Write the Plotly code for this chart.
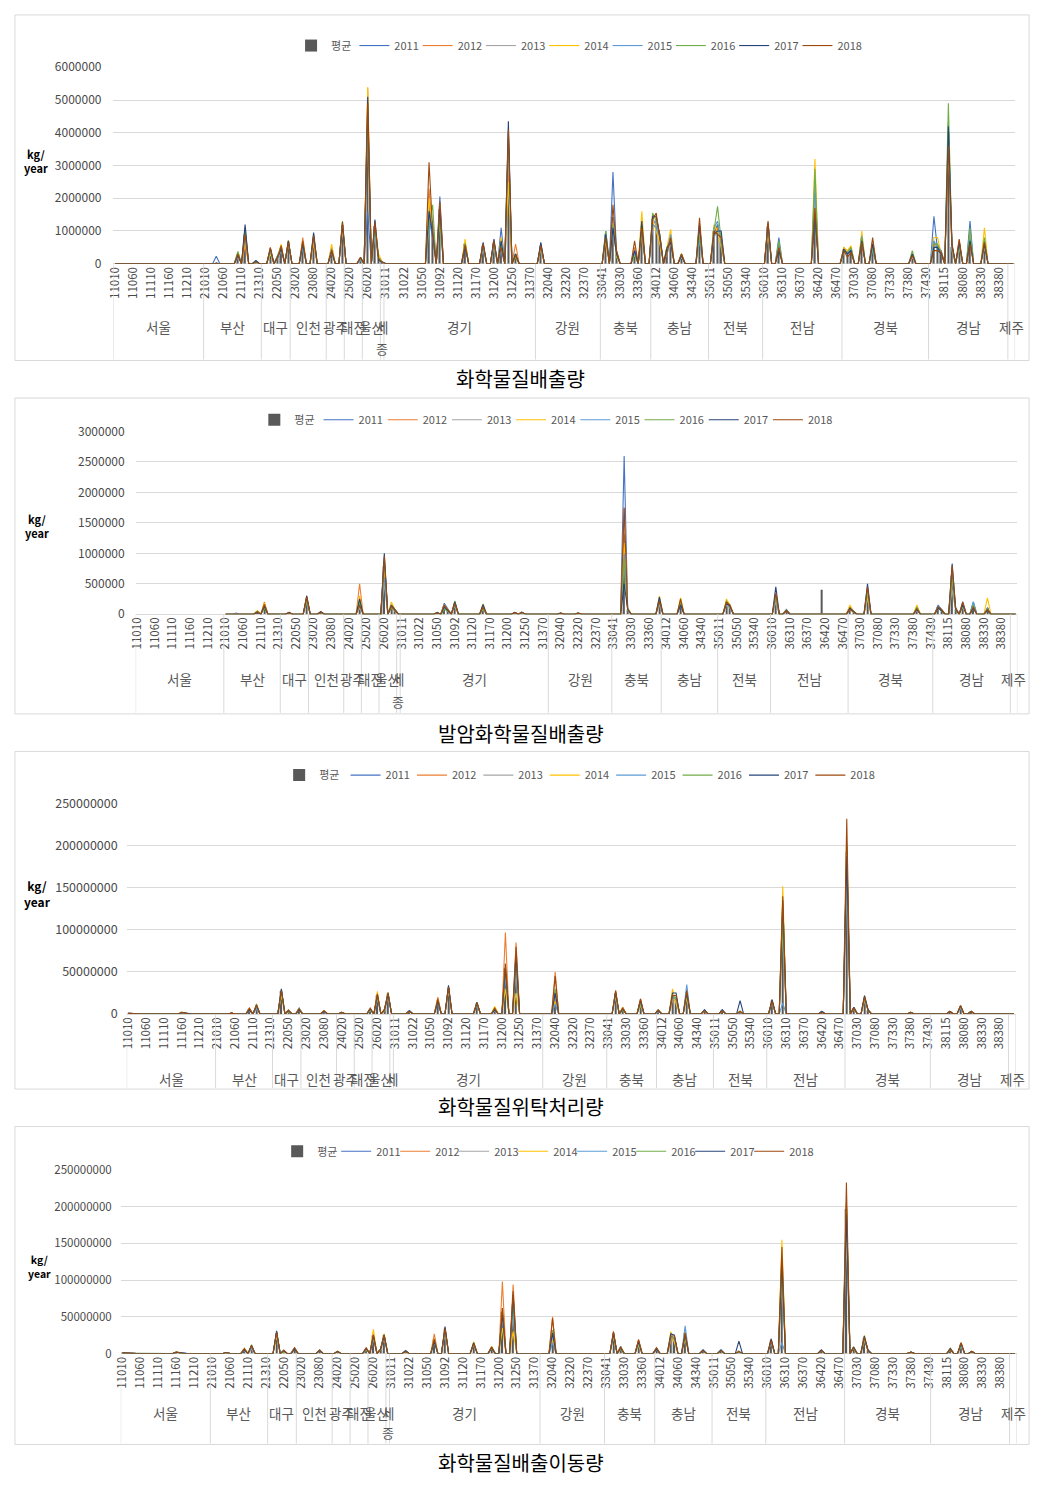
import plotly.graph_objects as go

# page geometry: the html body keeps its default 8px margin, so the figure fills the rest
PAGE_W, PAGE_H = 1054, 1503
OX, OY = 8, 8
FW, FH = PAGE_W - 2 * OX, PAGE_H - 2 * OY

# ---------------- categories (municipality codes) and regions ----------------
region_names = ["서울", "부산", "대구", "인천", "광주", "대전", "울산", "세종", "경기",
                "강원", "충북", "충남", "전북", "전남", "경북", "경남", "제주"]
seoul_codes = ["11010", "11020", "11030", "11040", "11050", "11060", "11070", "11080", "11090", "11100",
               "11110", "11120", "11130", "11140", "11150", "11160", "11170", "11180", "11190", "11200",
               "11210", "11220", "11230", "11240", "11250"]
busan_codes = ["21010", "21020", "21030", "21040", "21050", "21060", "21070", "21080", "21090", "21100",
               "21110", "21120", "21130", "21140", "21150", "21310"]
daegu_codes = ["22010", "22020", "22030", "22040", "22050", "22060", "22070", "22310"]
incheon_codes = ["23010", "23020", "23030", "23040", "23050", "23060", "23080", "23090", "23310", "23320"]
gwangju_codes = ["24010", "24020", "24030", "24040", "24050"]
daejeon_codes = ["25010", "25020", "25030", "25040", "25050"]
ulsan_codes = ["26010", "26020", "26030", "26040", "26310"]
sejong_codes = ["29010"]
gyeonggi_codes = ["31011", "31012", "31013", "31014", "31021", "31022", "31023", "31030", "31041", "31042",
                  "31050", "31060", "31070", "31080", "31091", "31092", "31101", "31103", "31104", "31110",
                  "31120", "31130", "31140", "31150", "31160", "31170", "31180", "31191", "31192", "31193",
                  "31200", "31210", "31220", "31230", "31240", "31250", "31260", "31270", "31280", "31350",
                  "31370", "31380"]
gangwon_codes = ["32010", "32020", "32030", "32040", "32050", "32060", "32070", "32310", "32320", "32330",
                 "32340", "32350", "32360", "32370", "32380", "32390", "32400", "32410"]
chungbuk_codes = ["33041", "33042", "33043", "33044", "33020", "33030", "33320", "33330", "33340", "33350",
                  "33360", "33370", "33380", "33390"]
chungnam_codes = ["34011", "34012", "34020", "34030", "34040", "34050", "34060", "34070", "34080", "34310",
                  "34330", "34340", "34350", "34360", "34370", "34380"]
jeonbuk_codes = ["35011", "35012", "35020", "35030", "35040", "35050", "35060", "35310", "35320", "35330",
                 "35340", "35350", "35360", "35370", "35380"]
jeonnam_codes = ["36010", "36020", "36030", "36040", "36060", "36310", "36320", "36330", "36350", "36360",
                 "36370", "36380", "36390", "36400", "36410", "36420", "36430", "36440", "36450", "36460",
                 "36470", "36480"]
gyeongbuk_codes = ["37011", "37012", "37020", "37030", "37040", "37050", "37060", "37070", "37080", "37090",
                   "37100", "37310", "37320", "37330", "37340", "37350", "37360", "37370", "37380", "37390",
                   "37400", "37410", "37420", "37430"]
gyeongnam_codes = ["38111", "38112", "38113", "38114", "38115", "38030", "38050", "38060", "38070", "38080",
                   "38090", "38100", "38310", "38320", "38330", "38340", "38350", "38360", "38370", "38380",
                   "38390", "38400"]
jeju_codes = ["39010", "39020"]

region_code_lists = [seoul_codes, busan_codes, daegu_codes, incheon_codes, gwangju_codes, daejeon_codes,
                     ulsan_codes, sejong_codes, gyeonggi_codes, gangwon_codes, chungbuk_codes, chungnam_codes,
                     jeonbuk_codes, jeonnam_codes, gyeongbuk_codes, gyeongnam_codes, jeju_codes]

years = ["2011", "2012", "2013", "2014", "2015", "2016", "2017", "2018"]

# ---------------- panel 1: 화학물질배출량 (values in 1,000 kg/year) ----------------
release_codes = ["21040", "21100", "21120", "21150", "22030", "22050", "22060", "22310", "23040", "23080",
                 "24020", "24050", "25050", "26020", "26040", "26310", "29010", "31070", "31080", "31092",
                 "31140", "31191", "31200", "31220", "31240", "31260", "32020", "33042", "33044", "33020",
                 "33350", "33370", "34011", "34012", "34020", "34040", "34050", "34080", "34360", "35012",
                 "35020", "35030", "36020", "36060", "36410", "37011", "37012", "37020", "37050", "37080",
                 "37390", "38112", "38113", "38114", "38030", "38050", "38070", "38100", "38340"]
release_2011 = [230, 300, 1000, 100, 350, 250, 500, 650, 500, 700,
                400, 1100, 150, 1600, 1100, 200, 50, 1500, 800, 2050,
                550, 500, 650, 1100, 2200, 300, 500, 800, 2800, 300,
                300, 1200, 1200, 1300, 800, 400, 700, 300, 1000, 900,
                1200, 600, 1000, 800, 1500, 500, 300, 400, 800, 500,
                300, 1450, 400, 300, 3500, 500, 500, 1300, 600]
release_2012 = [20, 250, 550, 50, 400, 200, 450, 700, 800, 600,
                500, 1200, 200, 5350, 1300, 150, 50, 2300, 900, 1800,
                650, 600, 700, 700, 3000, 600, 600, 900, 1300, 400,
                500, 1000, 1500, 1400, 900, 500, 800, 250, 1200, 1000,
                1100, 700, 1100, 500, 1800, 400, 350, 500, 700, 600,
                250, 600, 500, 400, 3800, 600, 700, 800, 700]
release_2013 = [10, 200, 900, 80, 450, 150, 400, 600, 600, 800,
                350, 1000, 100, 4400, 900, 100, 50, 1900, 1200, 1500,
                600, 450, 600, 500, 3500, 200, 550, 1000, 1250, 350,
                400, 900, 1400, 1200, 700, 300, 600, 200, 900, 800,
                1000, 900, 1200, 600, 2000, 450, 300, 450, 750, 700,
                200, 500, 600, 350, 4000, 400, 600, 700, 500]
release_2014 = [10, 350, 700, 60, 300, 220, 600, 720, 550, 650,
                600, 1150, 180, 5400, 1200, 300, 50, 2000, 1000, 1600,
                750, 550, 550, 800, 2500, 300, 450, 700, 1200, 200,
                300, 1600, 1300, 1000, 600, 500, 1050, 300, 800, 1200,
                1000, 500, 1000, 500, 3200, 500, 400, 550, 1000, 500,
                300, 800, 800, 300, 3700, 500, 500, 900, 1100]
release_2015 = [10, 300, 800, 50, 380, 180, 520, 680, 500, 750,
                450, 1250, 120, 4500, 1000, 150, 50, 1000, 1300, 1400,
                600, 500, 500, 400, 3800, 250, 500, 1000, 1000, 300,
                350, 1100, 1200, 1100, 800, 400, 900, 250, 700, 1100,
                1300, 600, 1100, 600, 2400, 400, 300, 450, 850, 400,
                250, 700, 500, 400, 4300, 450, 550, 800, 700]
release_2016 = [10, 380, 1100, 40, 420, 240, 480, 640, 650, 900,
                400, 1300, 160, 4700, 1100, 200, 50, 1200, 1800, 1300,
                620, 580, 650, 600, 4000, 200, 600, 1000, 1200, 250,
                250, 1000, 1550, 1300, 900, 450, 700, 300, 900, 1000,
                1750, 700, 1200, 700, 2900, 350, 350, 500, 800, 500,
                400, 600, 600, 350, 4900, 500, 600, 1100, 800]
release_2017 = [10, 250, 1200, 90, 480, 200, 450, 700, 600, 950,
                380, 1200, 200, 5100, 1350, 100, 50, 1600, 900, 1700,
                500, 650, 750, 700, 4350, 300, 650, 900, 1100, 300,
                400, 1300, 1450, 1450, 850, 500, 650, 250, 1200, 900,
                1000, 1000, 1250, 400, 1500, 450, 300, 400, 700, 600,
                300, 500, 500, 300, 4200, 600, 650, 700, 600]
release_2018 = [10, 300, 900, 60, 500, 180, 550, 660, 700, 850,
                420, 1280, 180, 4900, 1250, 150, 50, 3100, 1000, 1900,
                580, 600, 700, 500, 4100, 250, 550, 800, 1800, 400,
                700, 1100, 1350, 1550, 700, 350, 800, 300, 1400, 1000,
                900, 800, 1300, 500, 1700, 400, 200, 350, 650, 800,
                250, 400, 400, 350, 3600, 550, 750, 600, 650]
release_avg = [40, 290, 890, 66, 410, 200, 490, 670, 610, 775,
               440, 1185, 160, 4100, 1150, 170, 50, 1830, 1110, 1660,
               610, 550, 640, 660, 3430, 300, 550, 890, 1430, 310,
               400, 1150, 1370, 1290, 780, 430, 775, 270, 1010, 990,
               1160, 725, 1140, 575, 2120, 430, 310, 450, 780, 575,
               280, 690, 540, 340, 4000, 510, 610, 860, 680]

# ---------------- panel 2: 발암화학물질배출량 (values in 1,000 kg/year) ----------------
carcinogen_codes = ["21040", "21100", "21120", "22030", "22310", "23040", "24050", "26020", "26040", "26310",
                    "31050", "31070", "31080", "31092", "31150", "31220", "31240", "32040", "32320", "33044",
                    "33020", "33390", "34050", "35020", "35030", "36020", "36060", "36410", "37011", "37012",
                    "37050", "37390", "38112", "38113", "38030", "38050", "38070", "38100", "38340"]
carcinogen_2011 = [20, 50, 150, 30, 250, 40, 200, 900, 150, 80,
                   20, 180, 80, 200, 120, 30, 30, 20, 20, 2600,
                   100, 200, 150, 200, 150, 300, 80, 5, 100, 50,
                   300, 100, 150, 80, 500, 100, 200, 200, 100]
carcinogen_2012 = [5, 40, 200, 25, 300, 35, 500, 700, 120, 60,
                   30, 120, 60, 180, 100, 25, 35, 15, 15, 1750,
                   80, 250, 200, 180, 120, 250, 60, 5, 120, 40,
                   350, 80, 120, 60, 600, 80, 150, 120, 80]
carcinogen_2013 = [5, 30, 120, 20, 200, 30, 100, 500, 100, 50,
                   20, 100, 50, 150, 80, 20, 25, 10, 10, 900,
                   60, 150, 150, 150, 100, 200, 50, 5, 80, 30,
                   250, 60, 100, 50, 400, 60, 120, 100, 60]
carcinogen_2014 = [5, 60, 180, 30, 280, 40, 300, 800, 200, 80,
                   25, 150, 70, 150, 170, 30, 30, 20, 20, 1170,
                   80, 300, 270, 250, 150, 300, 60, 5, 150, 50,
                   300, 150, 120, 70, 700, 80, 150, 120, 270]
carcinogen_2015 = [5, 40, 150, 25, 260, 35, 150, 600, 120, 60,
                   20, 100, 60, 160, 100, 25, 30, 15, 15, 1000,
                   70, 200, 180, 200, 120, 250, 50, 5, 100, 40,
                   400, 100, 130, 60, 650, 70, 180, 200, 100]
carcinogen_2016 = [5, 50, 100, 20, 220, 30, 200, 850, 100, 70,
                   30, 80, 50, 220, 90, 20, 35, 10, 10, 900,
                   60, 250, 200, 220, 100, 300, 70, 5, 90, 30,
                   350, 120, 100, 50, 600, 60, 150, 150, 80]
carcinogen_2017 = [5, 30, 130, 30, 300, 40, 250, 1000, 150, 80,
                   25, 120, 60, 200, 160, 30, 30, 20, 20, 500,
                   80, 280, 150, 180, 130, 450, 60, 5, 100, 50,
                   500, 80, 100, 60, 830, 80, 160, 100, 60]
carcinogen_2018 = [5, 40, 160, 25, 280, 35, 150, 950, 130, 60,
                   20, 150, 80, 180, 120, 25, 30, 15, 15, 1750,
                   90, 220, 250, 200, 150, 350, 60, 5, 80, 40,
                   450, 90, 120, 80, 800, 100, 200, 120, 80]
carcinogen_avg = [7, 42, 150, 25, 260, 35, 230, 790, 130, 68,
                  24, 125, 64, 180, 118, 25, 31, 15, 15, 1320,
                  78, 230, 194, 198, 128, 300, 61, 400, 103, 41,
                  363, 98, 118, 64, 635, 79, 164, 139, 104]
carcinogen_no_data_regions = ["서울"]

# ---------------- panel 3: 화학물질위탁처리량 (values in 1,000,000 kg/year) ----------------
offsite_codes = ["11010", "11020", "11160", "11170", "21050", "21100", "21120", "22030", "22050", "22310",
                 "23080", "24020", "25050", "26020", "26040", "26310", "31021", "31070", "31092", "31150",
                 "31192", "31210", "31240", "32040", "33043", "33020", "33350", "34011", "34040", "34050",
                 "34080", "34360", "35020", "35310", "36020", "36060", "36420", "37011", "37020", "37050",
                 "37060", "37380", "38030", "38070", "38100"]
offsite_2011 = [1, 0.5, 1.5, 1, 1, 5, 10, 28, 4, 6,
                3, 2, 5, 20, 5, 24, 4, 12, 30, 12,
                5, 40, 60, 12, 25, 8, 15, 5, 20, 18,
                25, 5, 5, 2, 15, 120, 3, 180, 8, 20,
                5, 2, 3, 8, 3]
offsite_2012 = [1, 0.5, 2, 1, 1, 6, 8, 25, 3, 7,
                4, 2, 6, 22, 4, 22, 3, 20, 32, 13,
                6, 97, 85, 50, 28, 6, 18, 4, 15, 20,
                28, 4, 4, 3, 17, 135, 2, 200, 7, 18,
                4, 2, 3, 10, 3]
offsite_2013 = [0.5, 0.5, 1.8, 1, 1, 4, 6, 26, 4, 5,
                3, 2, 4, 18, 5, 20, 4, 15, 28, 11,
                4, 50, 50, 20, 20, 5, 12, 3, 18, 15,
                20, 5, 5, 2, 14, 100, 3, 150, 6, 15,
                5, 2, 3, 7, 3]
offsite_2014 = [1, 0.5, 2.2, 1, 1, 7, 9, 22, 3, 6,
                4, 2, 5, 27, 6, 25, 3, 18, 30, 14,
                9, 30, 25, 15, 22, 8, 10, 5, 30, 12,
                20, 4, 4, 3, 16, 152, 2, 200, 8, 22,
                4, 2, 3, 9, 3]
offsite_2015 = [1, 0.5, 1.5, 1, 1, 5, 7, 27, 4, 7,
                3, 2, 6, 20, 5, 23, 4, 14, 31, 12,
                5, 45, 55, 12, 25, 6, 12, 4, 22, 18,
                35, 5, 5, 2, 15, 13, 3, 190, 7, 20,
                5, 2, 3, 8, 3]
offsite_2016 = [0.5, 0.5, 2, 1, 1, 6, 12, 29, 3, 6,
                4, 2, 5, 21, 4, 26, 3, 16, 33, 13,
                6, 55, 65, 30, 24, 5, 14, 5, 20, 20,
                25, 4, 4, 3, 16, 110, 2, 200, 6, 18,
                4, 2, 3, 9, 3]
offsite_2017 = [1, 0.5, 1.8, 1, 1, 5, 10, 30, 4, 5,
                3, 2, 6, 23, 5, 24, 4, 15, 34, 14,
                5, 55, 70, 25, 26, 6, 16, 4, 25, 25,
                25, 5, 5, 16, 17, 135, 3, 188, 8, 22,
                5, 2, 3, 10, 3]
offsite_2018 = [1, 0.5, 2, 1, 1, 7, 11, 28, 5, 6,
                4, 2, 7, 24, 6, 25, 3, 18, 32, 13,
                7, 60, 80, 45, 28, 7, 18, 5, 22, 22,
                28, 4, 4, 3, 15, 140, 2, 232, 7, 20,
                4, 2, 3, 10, 3]
offsite_avg = [0.9, 0.5, 1.9, 1, 1, 5.6, 9.1, 27, 3.8, 6,
               3.5, 2, 5.5, 22, 5, 24, 3.5, 16, 31, 13,
               6, 54, 61, 26, 25, 6, 14, 4.4, 22, 19,
               26, 4.5, 4.5, 4, 16, 113, 2.5, 193, 7, 19,
               4.5, 2, 3, 9, 3]

# ---------------- panel 4: 화학물질배출이동량 (values in 1,000,000 kg/year) ----------------
prtr_codes = ["11010", "11020", "11160", "11170", "21050", "21100", "21120", "22030", "22050", "22310",
              "23080", "24020", "25050", "26020", "26040", "26310", "31021", "31070", "31092", "31150",
              "31192", "31210", "31240", "32040", "33043", "33020", "33350", "34011", "34040", "34050",
              "34080", "34360", "35020", "35310", "36020", "36060", "36420", "37011", "37020", "37050",
              "37060", "37380", "38030", "38070", "38100"]
prtr_2011 = [1, 0.5, 2, 1, 1.5, 5, 10, 29, 4, 7,
             5, 3, 6, 23, 6, 25, 4, 15, 33, 14,
             8, 45, 65, 15, 28, 10, 16, 8, 22, 20,
             28, 5, 5, 2, 17, 125, 5, 185, 9, 22,
             5, 2, 7, 12, 3]
prtr_2012 = [1, 0.5, 2.2, 1, 1.5, 6, 8, 27, 3, 8,
             4, 3, 7, 25, 5, 23, 3, 27, 35, 15,
             9, 98, 94, 50, 30, 8, 19, 6, 17, 22,
             30, 4, 4, 3, 20, 140, 4, 205, 8, 20,
             4, 2, 5, 15, 3]
prtr_2013 = [0.5, 0.5, 1.8, 1, 1.5, 4, 6, 26, 4, 6,
             4, 3, 5, 20, 6, 21, 4, 18, 30, 12,
             7, 55, 55, 22, 22, 6, 13, 5, 20, 17,
             22, 5, 5, 2, 16, 105, 5, 155, 7, 17,
             5, 2, 6, 10, 3]
prtr_2014 = [1, 0.5, 2.4, 1, 1.5, 7, 10, 24, 3, 7,
             5, 3, 6, 33, 6, 27, 3, 20, 32, 16,
             10, 35, 30, 18, 24, 9, 11, 7, 30, 14,
             22, 4, 4, 3, 18, 155, 4, 205, 9, 25,
             4, 2, 7, 13, 3]
prtr_2015 = [1, 0.5, 1.6, 1, 1.5, 5, 8, 28, 4, 8,
             5, 3, 7, 22, 5, 24, 4, 16, 33, 13,
             8, 50, 60, 15, 27, 7, 13, 6, 24, 20,
             38, 5, 5, 2, 17, 15, 5, 195, 8, 22,
             5, 2, 6, 12, 3]
prtr_2016 = [0.5, 0.5, 2.1, 1, 1.5, 6, 12, 30, 3, 7,
             4, 3, 6, 24, 5, 26, 3, 18, 35, 14,
             9, 58, 70, 32, 26, 6, 15, 7, 22, 22,
             27, 4, 4, 3, 18, 115, 4, 205, 7, 20,
             4, 2, 5, 13, 3]
prtr_2017 = [1, 0.5, 1.9, 1, 1.5, 5, 11, 31, 4, 6,
             4, 3, 7, 25, 6, 25, 4, 17, 37, 15,
             8, 55, 80, 28, 28, 8, 17, 6, 27, 25,
             26, 5, 5, 17, 20, 125, 5, 190, 9, 24,
             5, 2, 7, 14, 3]
prtr_2018 = [1, 0.5, 2.2, 1, 1.5, 7, 11, 29, 5, 8,
             5, 3, 8, 26, 6, 26, 3, 20, 34, 14,
             9, 62, 85, 48, 30, 9, 19, 8, 24, 24,
             28, 4, 4, 3, 18, 145, 4, 233, 8, 22,
             4, 2, 6, 15, 3]
prtr_avg = [0.9, 0.5, 2, 1, 1.5, 5.6, 9.5, 28, 3.8, 7,
            4.5, 3, 6.5, 25, 5.5, 25, 3.5, 19, 34, 14,
            8.5, 57, 67, 29, 27, 8, 15, 6.6, 23, 21,
            28, 4.5, 4.5, 4, 18, 116, 4.5, 197, 8, 21,
            4.5, 2, 6, 13, 3]

# ---------------- styling ----------------
YEAR_COLORS = ["#4472C4", "#ED7D31", "#A5A5A5", "#FFC000", "#5B9BD5", "#70AD47", "#264478", "#9E480E"]
AVG_COLOR = "#595959"
TEXT_COLOR = "#595959"
TICK_COLOR = "#4a4a4a"
GRID_COLOR = "#D9D9D9"
FONT = "Noto Sans CJK KR"

codes = [c for lst in region_code_lists for c in lst]
n_cat = len(codes)


def full_series(spike_codes, spike_values, unit, blank_codes):
    lookup = {c: v * unit for c, v in zip(spike_codes, spike_values)}
    return [None if c in blank_codes else lookup.get(c, 0) for c in codes]


def px(x):  # page pixel -> paper fraction
    return (x - OX) / FW


def py(y):
    return 1 - (y - OY) / FH


panels = [
    dict(title="화학물질배출량", codes=release_codes, avg=release_avg, unit=1000,
         series=[release_2011, release_2012, release_2013, release_2014, release_2015, release_2016,
                 release_2017, release_2018], blank_regions=[],
         ymax=6000000, dtick=1000000,
         border=(16, 12, 1037, 362), x0=117, step=3.631, ybot=264, ytop=65, ylab_gap=11, yfont=12,
         legend_text0=337, legend_sp=63.3, legend_y=43, region_y=328, jong_y=350, title_y=380,
         kg_x=37, kg_y=160, kg_size=11),
    dict(title="발암화학물질배출량", codes=carcinogen_codes, avg=carcinogen_avg, unit=1000,
         series=[carcinogen_2011, carcinogen_2012, carcinogen_2013, carcinogen_2014, carcinogen_2015,
                 carcinogen_2016, carcinogen_2017, carcinogen_2018], blank_regions=carcinogen_no_data_regions,
         ymax=3000000, dtick=500000,
         border=(16, 400, 1037, 720), x0=139.3, step=3.551, ybot=619, ytop=434, ylab_gap=10, yfont=12,
         legend_text0=300, legend_sp=64.2, legend_y=422, region_y=685, jong_y=707, title_y=740,
         kg_x=38, kg_y=530, kg_size=11),
    dict(title="화학물질위탁처리량", codes=offsite_codes, avg=offsite_avg, unit=1000000,
         series=[offsite_2011, offsite_2012, offsite_2013, offsite_2014, offsite_2015, offsite_2016,
                 offsite_2017, offsite_2018], blank_regions=[],
         ymax=250000000, dtick=50000000,
         border=(16, 758, 1037, 1100), x0=130.3, step=3.58, ybot=1024, ytop=811, ylab_gap=8, yfont=12.5,
         legend_text0=325, legend_sp=66.4, legend_y=782, region_y=1090, jong_y=None, title_y=1118,
         kg_x=39, kg_y=902, kg_size=12),
    dict(title="화학물질배출이동량", codes=prtr_codes, avg=prtr_avg, unit=1000000,
         series=[prtr_2011, prtr_2012, prtr_2013, prtr_2014, prtr_2015, prtr_2016, prtr_2017, prtr_2018],
         blank_regions=[],
         ymax=250000000, dtick=50000000,
         border=(16, 1138, 1037, 1460), x0=124.3, step=3.608, ybot=1368, ytop=1182, ylab_gap=8, yfont=11.5,
         legend_text0=323, legend_sp=59, legend_y=1163, region_y=1428, jong_y=1448, title_y=1478,
         kg_x=41, kg_y=1280, kg_size=10.5),
]

fig = go.Figure()
layout_extra = {}
shapes = []
annotations = []

starts = []
pos = 0
for lst in region_code_lists:
    starts.append(pos)
    pos += len(lst)
ends = starts[1:] + [n_cat]

for i, p in enumerate(panels):
    n = "" if i == 0 else str(i + 1)
    xref, yref, lg = "x" + n, "y" + n, "legend" + n
    blank = set()
    for rn in p["blank_regions"]:
        blank.update(region_code_lists[region_names.index(rn)])

    fig.add_trace(go.Bar(x=codes, y=full_series(p["codes"], p["avg"], p["unit"], blank),
                         marker=dict(color=AVG_COLOR, line=dict(width=0)), name="평균",
                         xaxis=xref, yaxis=yref, legend=lg))
    for yr, col, vals in zip(years, YEAR_COLORS, p["series"]):
        fig.add_trace(go.Scatter(x=codes, y=full_series(p["codes"], vals, p["unit"], blank),
                                 mode="lines", line=dict(color=col, width=1.1), name=yr,
                                 xaxis=xref, yaxis=yref, legend=lg, connectgaps=False))
    # invisible spacer entry so the last legend label is not clipped
    fig.add_trace(go.Scatter(x=[codes[0]], y=[None], mode="lines", name=" ",
                             line=dict(color="rgba(0,0,0,0)", width=0), hoverinfo="skip",
                             xaxis=xref, yaxis=yref, legend=lg))

    left = p["x0"] - 0.5 * p["step"]
    right = p["x0"] + (n_cat - 0.5) * p["step"]
    layout_extra["xaxis" + n] = dict(
        domain=[px(left), px(right)], anchor=yref, type="category",
        categoryorder="array", categoryarray=codes, range=[-0.5, n_cat - 0.5],
        tickmode="array", tickvals=codes[::5], ticktext=codes[::5], tickangle=-90,
        tickfont=dict(family=FONT, size=11.5, color=TICK_COLOR),
        showgrid=False, showline=False, zeroline=False, ticks="", fixedrange=True)
    layout_extra["yaxis" + n] = dict(
        domain=[py(p["ybot"]), py(p["ytop"])], anchor=xref, range=[0, p["ymax"]],
        tickmode="linear", tick0=0, dtick=p["dtick"], tickformat="d",
        showgrid=True, gridcolor=GRID_COLOR, gridwidth=1, zeroline=True, zerolinecolor=GRID_COLOR,
        zerolinewidth=1, showline=False, ticks="", ticklabelstandoff=p["ylab_gap"],
        tickfont=dict(family=FONT, size=p["yfont"], color=TICK_COLOR), fixedrange=True)
    layout_extra[lg] = dict(
        orientation="h", x=px(p["legend_text0"] - 43), xanchor="left", y=py(p["legend_y"]),
        yanchor="middle", entrywidth=p["legend_sp"] - 45, entrywidthmode="pixels", itemwidth=30,
        traceorder="normal", font=dict(family=FONT, size=11, color=TEXT_COLOR),
        bgcolor="rgba(0,0,0,0)")

    bx0, by0, bx1, by1 = p["border"]
    shapes.append(dict(type="rect", xref="paper", yref="paper", x0=px(bx0), x1=px(bx1),
                       y0=py(by1), y1=py(by0), line=dict(color=GRID_COLOR, width=1), layer="below"))
    for k in sorted(set(starts + [n_cat])):
        shapes.append(dict(type="line", xref=xref, yref="paper", x0=k - 0.5, x1=k - 0.5,
                           y0=py(by1 - 1), y1=py(p["ybot"]), line=dict(color=GRID_COLOR, width=1)))
    for rn, s, e in zip(region_names, starts, ends):
        label = rn
        if rn == "세종":
            label = "세"
            if p["jong_y"] is not None:
                annotations.append(dict(xref=xref, yref="paper", x=(s + e - 1) / 2, y=py(p["jong_y"]),
                                        text="종", showarrow=False, xanchor="center", yanchor="middle",
                                        font=dict(family=FONT, size=13, color=TEXT_COLOR)))
        annotations.append(dict(xref=xref, yref="paper", x=(s + e - 1) / 2, y=py(p["region_y"]),
                                text=label, showarrow=False, xanchor="center", yanchor="middle",
                                font=dict(family=FONT, size=13.5, color=TEXT_COLOR)))
    annotations.append(dict(xref="paper", yref="paper", x=px(p["kg_x"]), y=py(p["kg_y"]),
                            text="<b>kg/</b><br><b>year</b>", showarrow=False, xanchor="center",
                            yanchor="middle", align="center",
                            font=dict(family=FONT, size=p["kg_size"], color="#000000")))
    annotations.append(dict(xref="paper", yref="paper", x=px(525), y=py(p["title_y"]), text=p["title"],
                            showarrow=False, xanchor="center", yanchor="middle",
                            font=dict(family=FONT, size=20, color="#000000")))

fig.update_layout(
    width=FW, height=FH, margin=dict(l=0, r=0, t=0, b=0), autosize=False,
    paper_bgcolor="white", plot_bgcolor="white",
    font=dict(family=FONT, color=TEXT_COLOR),
    bargap=0.6, showlegend=True, hovermode=False,
    shapes=shapes, annotations=annotations,
    **layout_extra)

fig.write_html("out.html", config={"responsive": False, "displayModeBar": False})
